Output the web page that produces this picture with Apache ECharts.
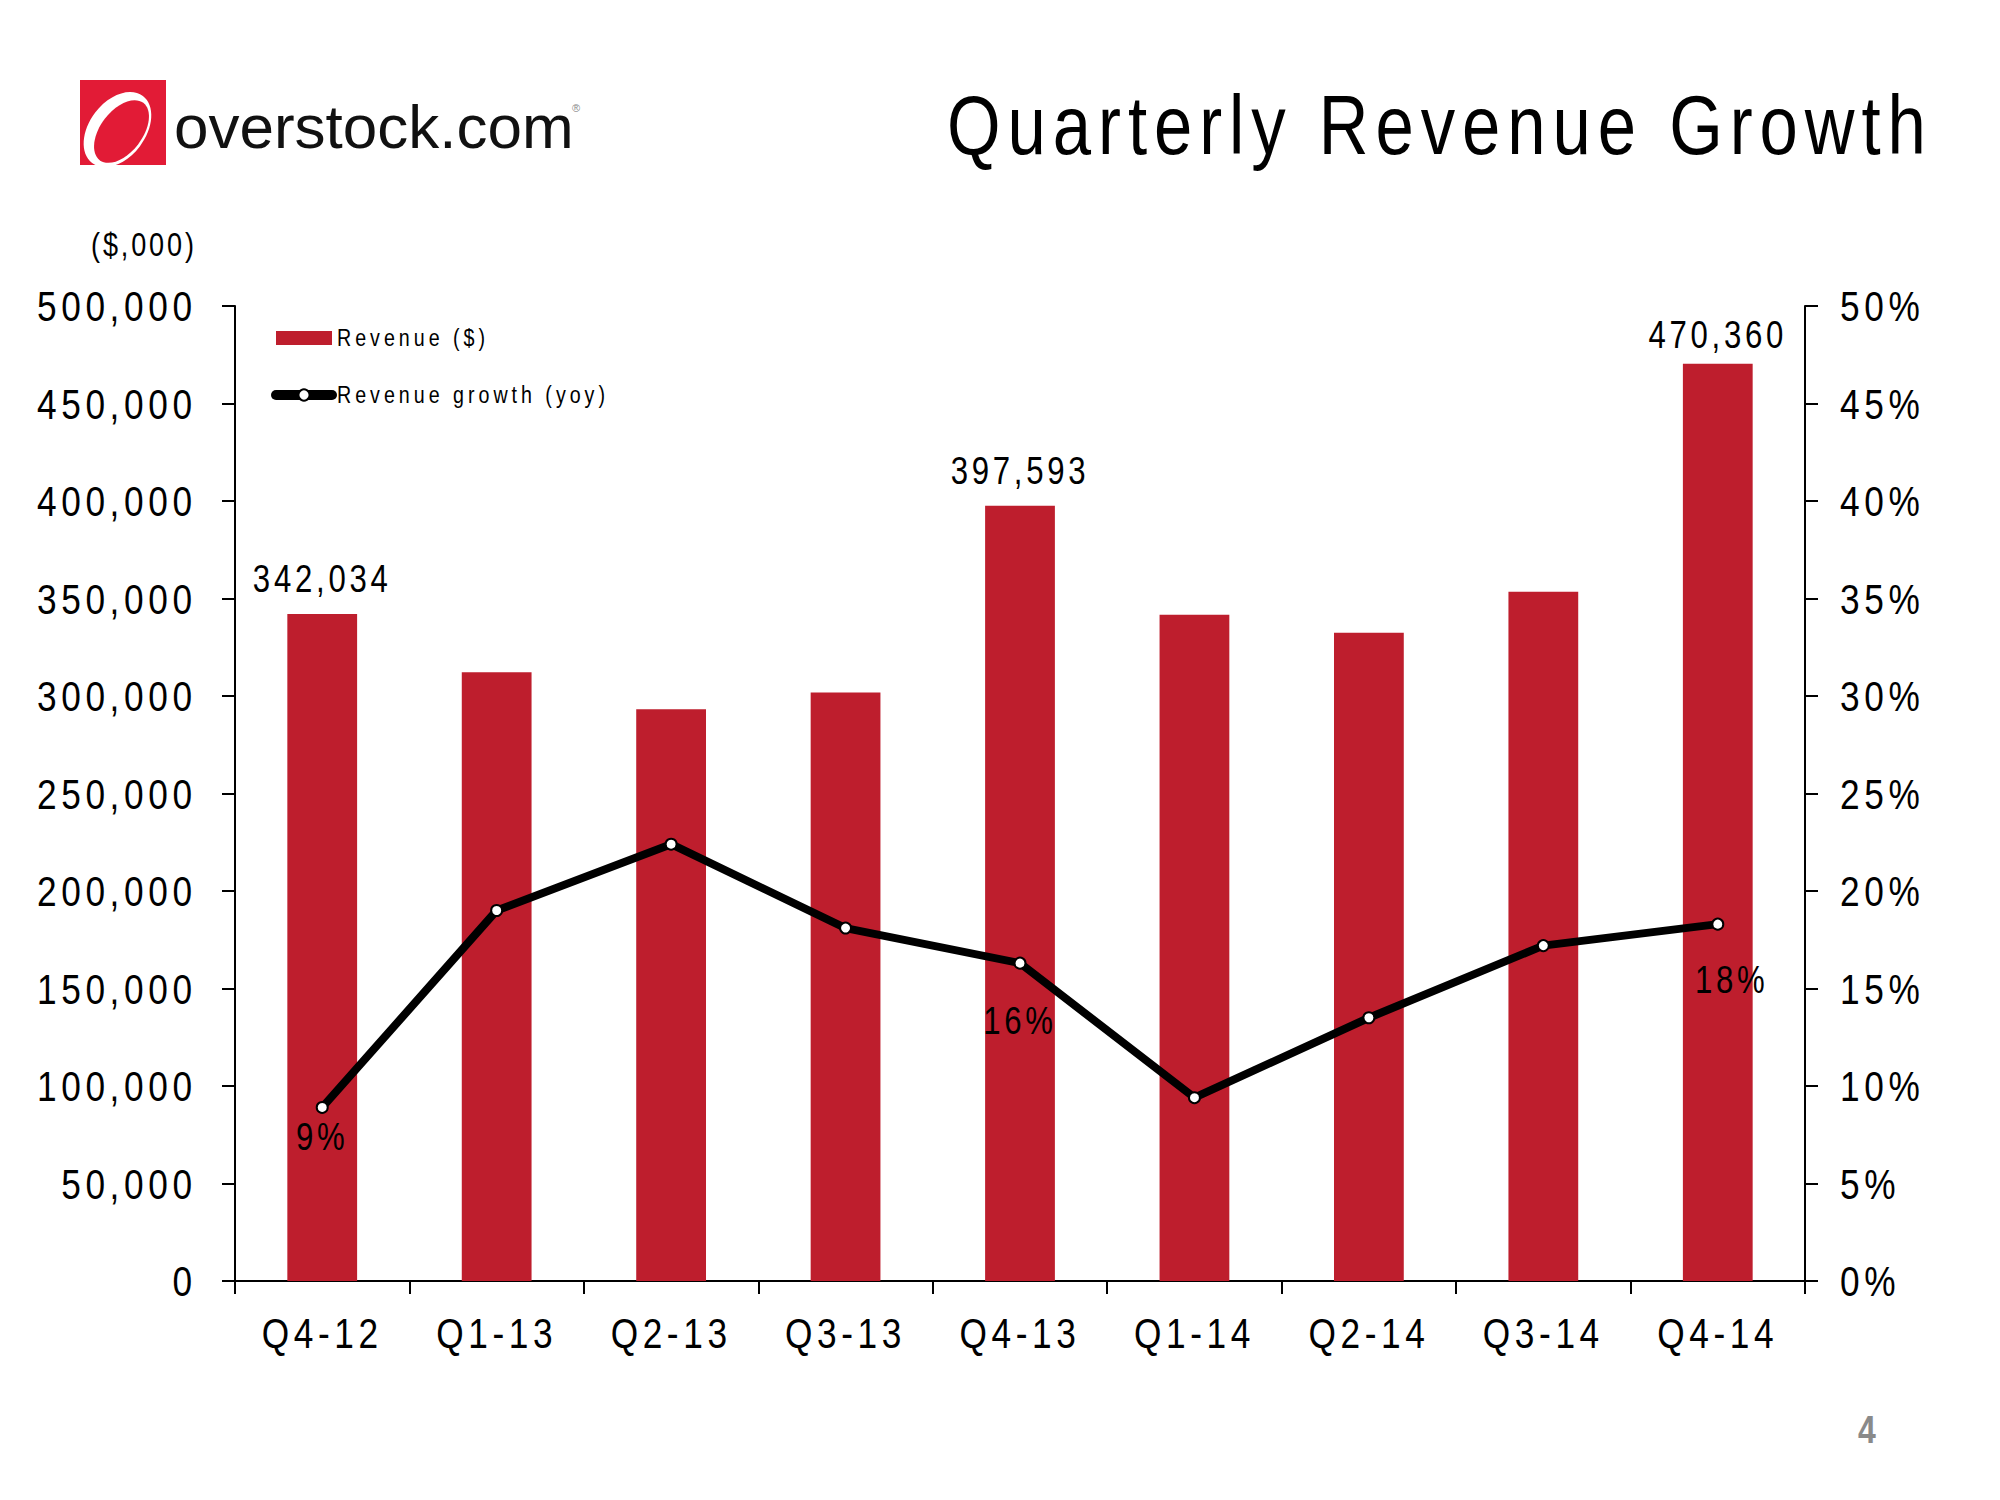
<!DOCTYPE html>
<html>
<head>
<meta charset="utf-8">
<script src="https://cdn.jsdelivr.net/npm/echarts@6/dist/echarts.min.js"></script>
<style>
html,body{margin:0;padding:0;background:#fff;}
#chart{width:2000px;height:1500px;}
</style>
<style id="spacing"></style>
</head>
<body>
<div id="chart"></div>
<script>
// ---------------- DATA ----------------
const categories = ['Q4-12','Q1-13','Q2-13','Q3-13','Q4-13','Q1-14','Q2-14','Q3-14','Q4-14'];
const revenue = [342034, 312200, 293230, 301740, 397593, 341640, 332460, 353440, 470360];
const growth = [8.9, 19.0, 22.4, 18.1, 16.3, 9.4, 13.5, 17.2, 18.3];
const revenueAxis = { min: 0, max: 500000, interval: 50000 };
const growthAxis = { min: 0, max: 50, interval: 5 };
const labeledPoints = [0, 4, 8];
const seriesNames = ['Revenue ($)', 'Revenue growth (yoy)'];
const titleText = 'Quarterly Revenue Growth';
const unitText = '($,000)';
const pageNumber = '4';

// ---------------- FONTS ----------------
const mctx = document.createElement('canvas').getContext('2d');
function textW(font, s){ mctx.font = font; return mctx.measureText(s).width; }
function hasFont(name){
  const s = 'Q4-14 500,000 Revenue growth';
  return textW("40px monospace", s) !== textW("40px '" + name + "', monospace", s);
}
const NARROW = ['Liberation Sans Narrow','Arial Narrow','Nimbus Sans Narrow'].find(hasFont);
const FAM = NARROW ? ("'" + NARROW + "', 'Liberation Sans', sans-serif") : "'Liberation Sans', Arial, sans-serif";
const LOGO_FAM = "'Liberation Sans', Helvetica, sans-serif";
// horizontal condensing when no narrow face is installed
const SX = NARROW ? 1 : 0.82;
function spacing(sample, size, target){
  const m = textW(size + 'px ' + FAM, sample);
  return (target / SX - m) / (sample.length - 1);
}
const SZ = { title: 84, axis: 43, label: 38, legend: 24, unit: 33 };
const LS = {
  title: spacing(titleText, SZ.title, 979),
  axis: spacing('500,000', SZ.axis, 155),
  label: spacing('397,593', SZ.label, 135),
  legend: spacing('Revenue growth (yoy)', SZ.legend, 268),
  unit: spacing(unitText, SZ.unit, 103)
};
let css = '';
for (const k in SZ) {
  css += '#chart text[style*="' + SZ[k] + 'px"]{letter-spacing:' + LS[k].toFixed(2) + 'px;}\n';
}
document.getElementById('spacing').textContent = css;

// ---------------- STYLES ----------------
const BAR_COLOR = '#BE1E2D';
const LOGO_RED = '#E21B36';
const barLabelDist = {0: 16, 4: 16, 8: 10};
const lineLabelCfg = {0: {distance: 4, offset: [0,0]}, 4: {distance: 32, offset: [0,0]}, 8: {distance: 30, offset: [14,0]}};

const barData = revenue.map((v, i) => labeledPoints.includes(i)
  ? { value: v, label: { show: true, distance: barLabelDist[i] } }
  : { value: v });
const lineData = growth.map((v, i) => labeledPoints.includes(i)
  ? { value: v, label: { show: true, distance: lineLabelCfg[i].distance, offset: lineLabelCfg[i].offset } }
  : { value: v });

const chart = echarts.init(document.getElementById('chart'), null, { renderer: 'svg', width: 2000, height: 1500 });

const axisLineStyle = { color: '#000', width: 2 };

const option = {
  backgroundColor: '#fff',
  animation: false,
  grid: { left: 235, right: 195, top: 306, bottom: 219, containLabel: false },
  legend: {
    orient: 'vertical',
    left: 271,
    top: 326,
    padding: 0,
    itemWidth: 56,
    itemHeight: 14,
    itemGap: 33,
    textStyle: { fontSize: SZ.legend, color: '#000', fontFamily: FAM },
    data: [
      { name: seriesNames[0], icon: 'rect' },
      { name: seriesNames[1], lineStyle: { width: 10, color: '#000', cap: 'round' } }
    ]
  },
  xAxis: {
    type: 'category',
    data: categories,
    boundaryGap: true,
    axisLine: { show: true, lineStyle: axisLineStyle },
    axisTick: { show: true, length: 13, inside: false, alignWithLabel: false, lineStyle: axisLineStyle },
    axisLabel: { interval: 0, margin: 30, fontSize: SZ.axis, color: '#000', fontFamily: FAM },
    splitLine: { show: false }
  },
  yAxis: [
    {
      type: 'value',
      min: revenueAxis.min, max: revenueAxis.max, interval: revenueAxis.interval,
      position: 'left',
      axisLine: { show: true, lineStyle: axisLineStyle },
      axisTick: { show: true, length: 13, inside: false, lineStyle: axisLineStyle },
      axisLabel: {
        margin: 43 - SX * LS.axis, fontSize: SZ.axis, color: '#000', fontFamily: FAM,
        formatter: v => v.toLocaleString('en-US')
      },
      splitLine: { show: false }
    },
    {
      type: 'value',
      min: growthAxis.min, max: growthAxis.max, interval: growthAxis.interval,
      position: 'right',
      axisLine: { show: true, lineStyle: axisLineStyle },
      axisTick: { show: true, length: 13, inside: false, lineStyle: axisLineStyle },
      axisLabel: {
        margin: 35, fontSize: SZ.axis, color: '#000', fontFamily: FAM,
        formatter: v => v + '%'
      },
      splitLine: { show: false }
    }
  ],
  series: [
    {
      name: seriesNames[0],
      type: 'bar',
      yAxisIndex: 0,
      barWidth: '40%',
      itemStyle: { color: BAR_COLOR },
      label: {
        show: false, position: 'top', fontSize: SZ.label, color: '#000', fontFamily: FAM,
        formatter: p => Number(p.value).toLocaleString('en-US')
      },
      data: barData,
      z: 2
    },
    {
      name: seriesNames[1],
      type: 'line',
      yAxisIndex: 1,
      symbol: 'circle',
      symbolSize: 11,
      lineStyle: { color: '#000', width: 8, cap: 'round', join: 'round' },
      itemStyle: { color: '#fff', borderColor: '#000', borderWidth: 2 },
      label: {
        show: false, position: 'bottom', fontSize: SZ.label, color: '#000', fontFamily: FAM,
        formatter: p => Math.round(p.value) + '%'
      },
      data: lineData,
      z: 5
    }
  ],
  graphic: [
    // logo
    { type: 'rect', shape: { x: 80, y: 80, width: 86, height: 85 }, style: { fill: LOGO_RED }, silent: true },
    { type: 'ellipse', shape: { cx: 0, cy: 0, rx: 28, ry: 42 }, x: 117.5, y: 129.5, rotation: -0.65, style: { fill: '#fff' }, silent: true },
    { type: 'ellipse', shape: { cx: 0, cy: 0, rx: 21, ry: 36 }, x: 121.5, y: 131.5, rotation: -0.65, style: { fill: LOGO_RED }, silent: true },
    { type: 'text', x: 174, y: 126, style: { text: 'overstock.com', fontSize: 62, fontFamily: LOGO_FAM, fill: '#111', align: 'left', verticalAlign: 'middle' }, silent: true },
    { type: 'text', x: 572, y: 108, style: { text: '®', fontSize: 11, fontFamily: LOGO_FAM, fill: '#888', align: 'left', verticalAlign: 'middle' }, silent: true },
    // title
    { type: 'text', x: 947, y: 124, style: { text: titleText, fontSize: SZ.title, fontFamily: FAM, fill: '#000', align: 'left', verticalAlign: 'middle' }, silent: true },
    // unit
    { type: 'text', x: 91, y: 245, style: { text: unitText, fontSize: SZ.unit, fontFamily: FAM, fill: '#000', align: 'left', verticalAlign: 'middle' }, silent: true },
    // page number
    { type: 'text', x: 1867, y: 1430, style: { text: pageNumber, fontSize: 39, fontWeight: 'bold', fontFamily: FAM, fill: '#8A8A8A', align: 'center', verticalAlign: 'middle' }, silent: true }
  ]
};
chart.setOption(option);

// condense chart texts horizontally (Arial Narrow look), scaling about each text's anchor
function condense(){
  if (SX === 1) return;
  document.querySelectorAll('#chart svg text').forEach(t => {
    const st = t.getAttribute('style') || '';
    if (/62px|11px/.test(st)) return;
    const tr = t.getAttribute('transform') || '';
    if (tr.indexOf('scale(' + SX) >= 0) return;
    const x = parseFloat(t.getAttribute('x') || 0) || 0;
    const y = parseFloat(t.getAttribute('y') || 0) || 0;
    t.setAttribute('transform', (tr + ' translate(' + x + ' ' + y + ') scale(' + SX + ' 1) translate(' + (-x) + ' ' + (-y) + ')').trim());
  });
}
condense();
chart.on('finished', condense);
</script>
</body>
</html>
